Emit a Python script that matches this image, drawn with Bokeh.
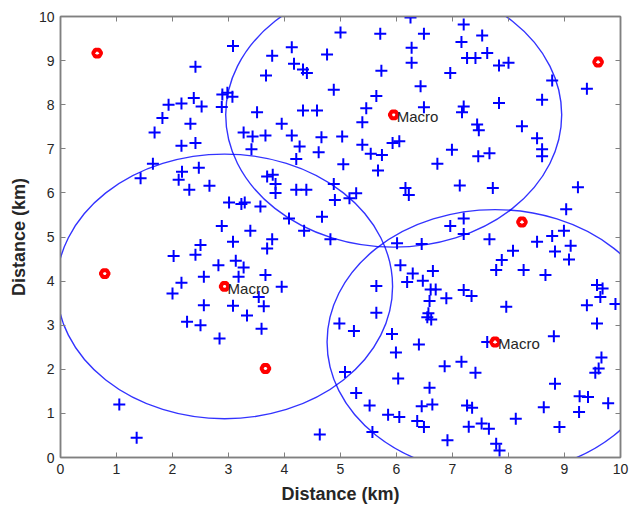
from bokeh.plotting import figure
from bokeh.models import LinearAxis, FixedTicker
from bokeh.core.properties import value
from bokeh.embed import file_html
from bokeh.resources import INLINE

# Macro base stations (km)
macro_x = [5.95, 2.93, 7.76]
macro_y = [7.77, 3.88, 2.62]
macro_label = ["Macro", "Macro", "Macro"]
coverage_radius = 3.0

# Other (small) base stations
small_x = [0.655, 9.60, 0.79, 3.66, 8.24]
small_y = [9.17, 8.97, 4.17, 2.02, 5.34]

# Users
user_x = [2.41, 1.93, 2.16, 2.38, 2.52, 1.82, 2.32, 1.68, 2.16, 2.41, 1.65, 1.43, 2.17, 2.11, 2.30, 2.47,
          2.02, 2.41, 2.50, 2.16, 2.00, 2.56, 2.56,
          3.08, 3.78, 4.13, 3.67, 4.17, 4.33, 4.40, 4.76, 5.00, 4.88, 2.89, 2.98, 3.07, 2.88, 3.51, 4.33,
          4.58, 3.95, 3.27, 3.43, 3.66, 4.13, 4.27, 4.66, 5.03, 4.61, 3.41, 4.21, 5.05,
          6.25, 5.71, 6.49, 7.20, 7.53, 6.27, 7.16, 7.26, 7.41, 7.62, 6.27, 5.73, 6.96, 6.43, 5.64, 5.46,
          6.49, 7.20, 7.17, 5.39, 7.44, 7.47, 5.39, 5.93, 6.05, 5.54, 5.74, 6.99, 7.46, 6.73,
          7.83, 8.00, 8.78, 9.40, 7.83, 8.60, 8.24, 8.51, 8.60, 8.60, 7.66,
          2.66, 3.69, 3.79, 3.84, 3.84, 4.21, 4.39, 4.88, 4.90, 3.01, 3.23, 3.29, 3.57, 4.67, 4.08, 4.35,
          4.82, 2.88, 3.39, 3.78, 3.69, 3.08, 2.82, 3.13, 3.27, 3.18, 3.66, 3.95, 3.54, 3.63, 3.08, 3.33,
          5.67, 6.16, 6.22, 7.13, 5.16, 5.28, 6.96, 7.20, 7.20, 6.01, 6.45, 6.07, 6.29, 6.19, 6.47, 6.65,
          6.61, 6.70, 6.59, 6.89, 7.20, 7.34, 5.64, 5.64, 6.57,
          7.72, 9.24, 9.03, 8.99, 8.78, 8.51, 9.11, 8.83, 9.08, 7.66, 8.08, 7.88, 7.78, 8.27, 8.66, 9.58,
          9.68, 9.64, 9.40, 9.91, 7.96,
          2.26, 2.50, 1.05, 1.36,
          3.59, 2.84, 4.98, 5.08, 4.63,
          5.24, 6.55, 6.62, 5.92, 5.99, 6.40, 6.86, 7.16, 7.41, 6.03, 6.59, 5.28, 5.52, 5.85, 6.05, 6.45,
          6.64, 6.37, 6.49, 7.26, 7.35, 7.29, 7.52, 5.57, 6.91,
          7.62, 9.58, 8.81, 9.66, 9.61, 9.55, 8.83, 9.27, 9.42, 9.78, 8.63, 9.26, 8.13, 8.91, 7.65, 7.78,
          7.84]
user_y = [8.86, 8.00, 8.03, 8.15, 7.96, 7.70, 7.57, 7.37, 7.07, 7.13, 6.66, 6.33, 6.48, 6.30, 6.07, 6.57,
          4.57, 4.60, 4.82, 3.96, 3.72, 4.10, 3.45,
          9.33, 9.11, 9.30, 8.66, 8.93, 8.80, 8.72, 9.14, 9.64, 8.34, 8.23, 8.27, 8.18, 7.95, 7.83, 7.87,
          7.87, 7.57, 7.37, 7.28, 7.30, 7.30, 7.05, 7.26, 7.28, 6.92, 6.99, 6.77, 6.65,
          9.98, 9.61, 9.61, 9.82, 9.57, 9.29, 9.42, 9.06, 9.06, 9.17, 8.95, 8.77, 8.72, 8.42, 8.20, 7.92,
          7.94, 7.96, 7.83, 7.60, 7.55, 7.42, 7.09, 7.13, 7.17, 6.89, 6.86, 6.98, 6.83, 6.66,
          8.89, 8.95, 8.55, 8.36, 8.04, 8.11, 7.51, 7.24, 6.99, 6.83, 6.90,
          6.16, 6.37, 6.41, 6.20, 6.00, 6.07, 6.07, 6.20, 5.84, 5.78, 5.75, 5.78, 5.69, 5.46, 5.42, 5.14,
          4.95, 5.25, 5.14, 4.95, 4.74, 4.89, 4.36, 4.46, 4.31, 4.10, 4.14, 3.87, 3.64, 3.43, 3.44, 3.22,
          6.51, 6.11, 5.95, 6.17, 5.88, 5.99, 5.25, 5.42, 5.07, 4.86, 4.84, 4.36, 4.17, 3.98, 4.01, 4.23,
          3.81, 3.81, 3.55, 3.61, 3.80, 3.66, 3.89, 3.28, 3.27,
          6.11, 6.13, 5.63, 5.14, 5.02, 4.89, 4.80, 4.67, 4.49, 4.95, 4.69, 4.48, 4.25, 4.25, 4.14, 3.91,
          3.83, 3.64, 3.45, 3.48, 3.42,
          3.08, 3.00, 1.20, 0.45,
          2.92, 2.70, 3.04, 1.94, 0.52,
          2.87, 3.18, 3.13, 2.80, 2.38, 2.56, 2.07, 2.17, 1.92, 1.79, 1.58, 1.46, 1.18, 0.97, 0.92, 1.16,
          1.20, 0.83, 0.69, 1.18, 1.13, 0.70, 0.77, 0.58, 0.39,
          2.62, 3.04, 2.75, 2.27, 2.02, 1.92, 1.67, 1.39, 1.37, 1.23, 1.14, 1.03, 0.88, 0.69, 0.65, 0.31,
          0.16]

ticks = list(range(0, 11))
axis_title = "Distance (km)"

FONT = "Liberation Sans"
AX_COL = "#808080"
TXT_COL = "#262626"

p = figure(width=631, height=514, x_range=(0, 10), y_range=(0, 10),
           output_backend="svg", toolbar_location=None,
           min_border_left=60, min_border_right=11, min_border_top=16, min_border_bottom=57,
           background_fill_color="white", border_fill_color="white")
p.grid.visible = False
p.outline_line_color = AX_COL
p.outline_line_width = 1.5

for ax in (p.xaxis[0], p.yaxis[0]):
    ax.ticker = FixedTicker(ticks=ticks)
    ax.axis_label = axis_title
    ax.axis_label_text_font = FONT
    ax.axis_label_text_font_style = "bold"
    ax.axis_label_text_font_size = "18px"
    ax.axis_label_text_color = TXT_COL
    ax.major_label_text_font = FONT
    ax.major_label_text_font_size = "14px"
    ax.major_label_text_color = TXT_COL
    ax.axis_line_color = AX_COL
    ax.axis_line_width = 1.5
    ax.major_tick_line_color = AX_COL
    ax.major_tick_in = 5
    ax.major_tick_out = 0
    ax.minor_tick_line_color = None
    ax.major_label_standoff = 6
    ax.axis_label_standoff = 7

for loc in ("above", "right"):
    ax = LinearAxis(ticker=FixedTicker(ticks=ticks))
    ax.major_label_text_color = None
    ax.major_label_text_alpha = 0
    ax.major_label_text_font_size = "2px"
    ax.major_label_standoff = 0
    ax.axis_line_color = AX_COL
    ax.axis_line_width = 1.5
    ax.major_tick_line_color = AX_COL
    ax.major_tick_in = 5
    ax.major_tick_out = 0
    ax.minor_tick_line_color = None
    p.add_layout(ax, loc)

d = [2 * coverage_radius] * len(macro_x)
p.ellipse(x=macro_x, y=macro_y, width=d, height=d, fill_color=None,
          line_color="#0000ff", line_width=1.4, line_alpha=0.8)

p.scatter(x=user_x, y=user_y, marker="cross", size=12, line_color="#0000ff", line_width=2)

p.scatter(x=small_x + macro_x, y=small_y + macro_y, marker="hex", size=8,
          line_color="#ff0000", line_width=4, fill_color="white")

p.text(x=macro_x, y=macro_y, text=macro_label, x_offset=3, y_offset=2,
       text_baseline="middle", text_align="left", text_font=value(FONT),
       text_font_size="15px", text_color=TXT_COL)

open("out.html", "w").write(file_html(p, INLINE))
